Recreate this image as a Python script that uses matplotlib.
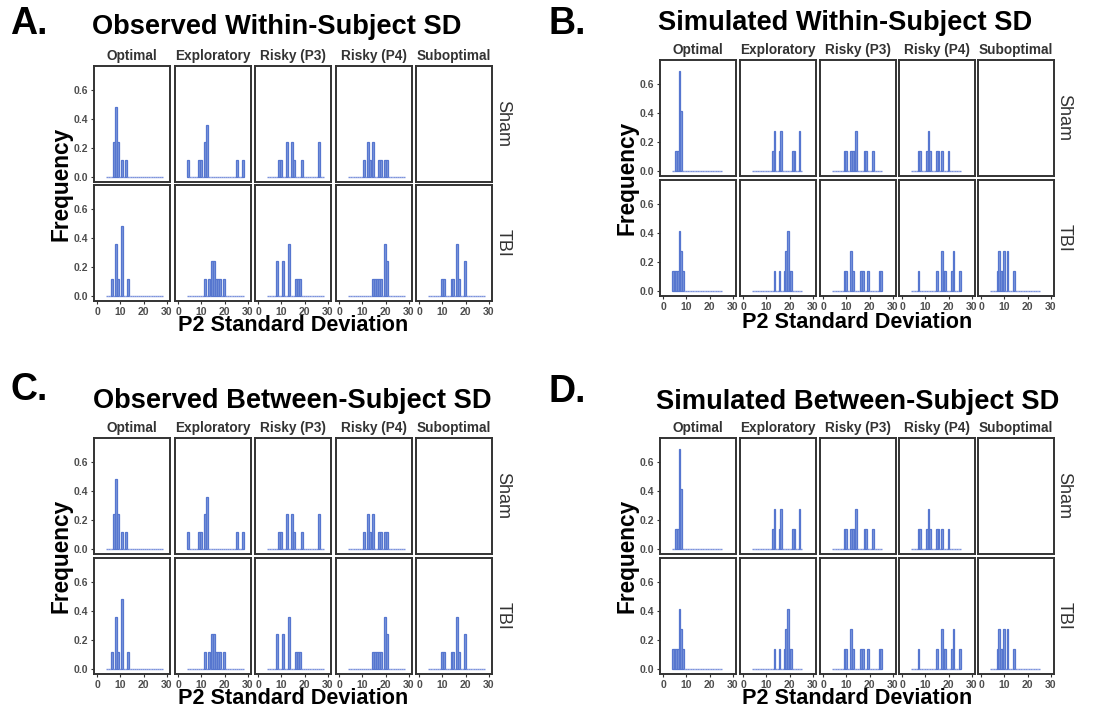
import matplotlib.pyplot as plt
import numpy as np

plt.rcParams['font.family'] = ['Liberation Sans', 'DejaVu Sans']

strategies = ["Optimal", "Exploratory", "Risky (P3)", "Risky (P4)", "Suboptimal"]
groups = ["Sham", "TBI"]

# P2 standard deviation per subject (10 per cell)
obs_sham = [
    [7.31, 7.31, 8.14, 8.14, 8.14, 8.14, 8.97, 8.97, 10.62, 12.28],
    [4.0, 8.97, 9.79, 11.45, 11.45, 12.28, 12.28, 12.28, 25.52, 28.0],
    [8.97, 9.79, 12.28, 12.28, 14.76, 14.76, 15.59, 18.9, 26.34, 26.34],
    [10.62, 12.28, 12.28, 13.1, 14.76, 14.76, 17.24, 18.07, 19.72, 20.55],
    [],
]
obs_tbi = [
    [6.48, 8.14, 8.14, 8.14, 8.97, 10.62, 10.62, 10.62, 10.62, 13.1],
    [11.45, 13.1, 14.76, 14.76, 15.59, 15.59, 16.41, 17.24, 18.07, 19.72],
    [8.14, 8.14, 10.62, 10.62, 13.1, 13.1, 13.1, 16.41, 17.24, 18.07],
    [14.76, 15.59, 16.41, 17.24, 18.07, 19.72, 19.72, 19.72, 20.55, 20.55],
    [9.79, 10.62, 13.93, 14.76, 16.41, 16.41, 16.41, 17.24, 19.72, 19.72],
]
sim_sham = [
    [5.45, 6.17, 6.9, 6.9, 6.9, 6.9, 6.9, 7.62, 7.62, 7.62],
    [12.69, 13.41, 13.41, 15.59, 16.31, 16.31, 21.38, 22.1, 24.28, 24.28],
    [9.07, 9.79, 11.97, 12.69, 13.41, 14.14, 14.14, 17.76, 18.48, 21.38],
    [6.9, 7.62, 10.52, 11.24, 11.24, 11.97, 14.86, 15.59, 17.03, 19.93],
    [],
]
sim_tbi = [
    [4.0, 4.72, 5.45, 6.17, 6.9, 6.9, 6.9, 7.62, 7.62, 8.34],
    [13.41, 15.59, 17.76, 18.48, 18.48, 19.21, 19.21, 19.21, 19.93, 20.66],
    [9.07, 9.79, 11.97, 11.97, 12.69, 16.31, 17.03, 19.21, 24.28, 25.0],
    [6.9, 14.86, 17.03, 17.03, 17.76, 18.48, 21.38, 22.1, 22.1, 25.0],
    [6.9, 7.62, 7.62, 8.34, 9.07, 9.79, 9.79, 11.24, 11.24, 14.14],
]

W, H = 1107, 709
fig = plt.figure(figsize=(W / 100, H / 100), dpi=100)


def fx(x):
    return x / W


def fy(y):
    return 1 - y / H


def draw_panel(letter, title, sham, tbi, cols, rows, letter_xy, title_xy, freq_x, xlab_y, row_x):
    # shared bins like ggplot (30 bins centred on min and max)
    allv = np.concatenate([np.array(v) for v in sham + tbi if len(v) > 0])
    lo, hi = allv.min(), allv.max()
    w = (hi - lo) / 29
    edges = lo - w / 2 + w * np.arange(31)

    for r, data in enumerate([sham, tbi]):
        for c, vals in enumerate(data):
            ax = fig.add_axes([fx(cols[c]), fy(rows[r] + 116), 76 / W, 116 / H])
            if len(vals) > 0:
                n, b, patches = ax.hist(vals, bins=edges, density=True, facecolor='#7f99dc',
                                        edgecolor='#5676cf', linewidth=0.9)
                for p, h in zip(patches, n):
                    if h == 0:
                        p.set_edgecolor('#7d93dc')
                        p.set_linewidth(1.0)
            ax.set_xlim(-1.5, 31.5)
            ax.set_ylim(-0.035, 0.77)
            ax.set_xticks([0, 10, 20, 30])
            ax.set_yticks([0.0, 0.2, 0.4, 0.6])
            ax.set_yticklabels(["0.0", "0.2", "0.4", "0.6"])
            for s in ax.spines.values():
                s.set_color('#333333')
                s.set_linewidth(1.4)
            ax.tick_params(length=2.5, width=0.8, color='#333333', pad=1.5,
                           labelsize=7.5, labelcolor='#4d4d4d')
            for t in ax.get_xticklabels() + ax.get_yticklabels():
                t.set_fontweight('bold')
            if c > 0:
                ax.set_yticklabels([])
                ax.tick_params(axis='y', length=0)
            if r == 0:
                ax.set_xticklabels([])
                ax.tick_params(axis='x', length=0)
                ax.text(0.5, 1.03, strategies[c], transform=ax.transAxes,
                        ha='center', va='bottom', fontsize=9.8,
                        fontweight='bold', color='#333333')
        fig.text(fx(row_x), fy(rows[r] + 58), groups[r], rotation=-90,
                 ha='center', va='center', fontsize=13, color='#333333')

    fig.text(fx(letter_xy[0]), fy(letter_xy[1]), letter, ha='center', va='center',
             fontsize=27, fontweight='bold')
    fig.text(fx(title_xy[0]), fy(title_xy[1]), title, ha='center', va='center',
             fontsize=19.6, fontweight='bold')
    fig.text(fx(freq_x), fy((rows[0] + rows[1] + 116) / 2), "Frequency",
             rotation=90, ha='center', va='center', fontsize=16.3, fontweight='bold')
    fig.text(fx((cols[0] + cols[-1] + 76) / 2), fy(xlab_y), "P2 Standard Deviation",
             ha='center', va='center', fontsize=15.6, fontweight='bold')


colsA = [94, 175, 255, 336, 416]
colsB = [660, 740, 820, 899, 978]

draw_panel("A.", "Observed Within-Subject SD", obs_sham, obs_tbi, colsA, [66, 185],
           (29, 24), (277, 27), 61, 326, 503)
draw_panel("B.", "Simulated Within-Subject SD", sim_sham, sim_tbi, colsB, [60, 180],
           (567, 24), (845, 23), 627, 323, 1064)
draw_panel("C.", "Observed Between-Subject SD", obs_sham, obs_tbi, colsA, [438, 558],
           (29, 390), (292, 401), 61, 699, 503)
draw_panel("D.", "Simulated Between-Subject SD", sim_sham, sim_tbi, colsB, [438, 558],
           (567, 392), (858, 402), 627, 699, 1064)

fig.savefig("out.png", dpi=100, facecolor='white')
